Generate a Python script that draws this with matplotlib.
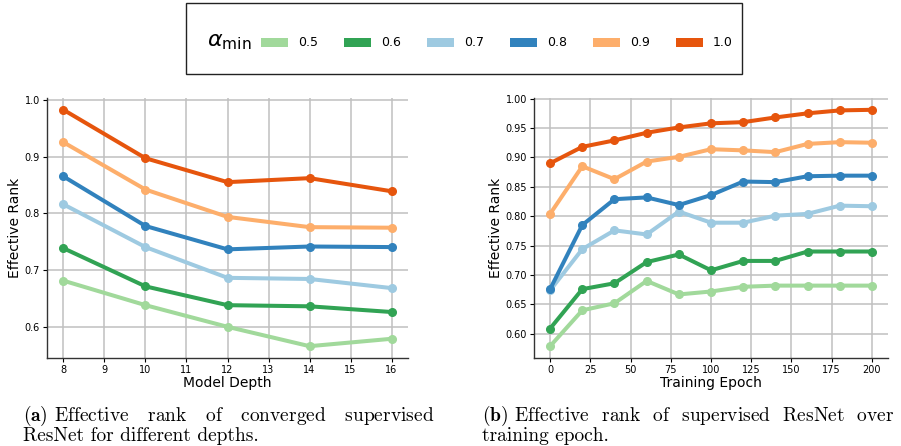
import numpy as np
import matplotlib
matplotlib.use("Agg")
import matplotlib.pyplot as plt
from matplotlib.patches import Patch, Rectangle

plt.rcParams['mathtext.fontset'] = 'cm'

# ---- data ----
alpha_labels = ['0.5', '0.6', '0.7', '0.8', '0.9', '1.0']
colors = ['#a1d99b', '#31a354', '#9ecae1', '#3182bd', '#fdae6b', '#e6550d']

depths = [8, 10, 12, 14, 16]
rank_depth_05 = [0.682, 0.639, 0.601, 0.567, 0.580]
rank_depth_06 = [0.739, 0.672, 0.639, 0.637, 0.627]
rank_depth_07 = [0.816, 0.741, 0.687, 0.685, 0.669]
rank_depth_08 = [0.865, 0.778, 0.737, 0.742, 0.741]
rank_depth_09 = [0.925, 0.842, 0.794, 0.776, 0.775]
rank_depth_10 = [0.982, 0.897, 0.855, 0.862, 0.839]

epochs = [0, 20, 40, 60, 80, 100, 120, 140, 160, 180, 200]
rank_epoch_05 = [0.579, 0.640, 0.652, 0.690, 0.667, 0.672, 0.680, 0.682, 0.682, 0.682, 0.682]
rank_epoch_06 = [0.609, 0.676, 0.686, 0.722, 0.735, 0.708, 0.724, 0.724, 0.740, 0.740, 0.740]
rank_epoch_07 = [0.674, 0.744, 0.776, 0.769, 0.808, 0.789, 0.789, 0.801, 0.804, 0.818, 0.817]
rank_epoch_08 = [0.676, 0.785, 0.829, 0.832, 0.819, 0.836, 0.859, 0.858, 0.868, 0.869, 0.869]
rank_epoch_09 = [0.804, 0.885, 0.863, 0.893, 0.901, 0.914, 0.912, 0.909, 0.923, 0.926, 0.925]
rank_epoch_10 = [0.890, 0.918, 0.929, 0.942, 0.951, 0.958, 0.960, 0.968, 0.975, 0.980, 0.981]

depth_series = [rank_depth_05, rank_depth_06, rank_depth_07,
                rank_depth_08, rank_depth_09, rank_depth_10]
epoch_series = [rank_epoch_05, rank_epoch_06, rank_epoch_07,
                rank_epoch_08, rank_epoch_09, rank_epoch_10]

fig = plt.figure(figsize=(9.01, 4.46), dpi=100)
ax1 = fig.add_axes([0.0522, 0.1973, 0.4006, 0.583])
ax2 = fig.add_axes([0.5927, 0.1973, 0.3929, 0.583])


def style_axis(ax):
    ax.grid(True, color='#c0c0c0', linewidth=1.1, zorder=0)
    ax.set_axisbelow(True)
    for s in ['top', 'right']:
        ax.spines[s].set_visible(False)
    for s in ['left', 'bottom']:
        ax.spines[s].set_color('#333333')
        ax.spines[s].set_linewidth(1.0)
    ax.tick_params(labelsize=7, length=3, width=0.8, pad=2)
    ax.set_ylabel('Effective Rank', fontsize=10, labelpad=2)


for ys, c in zip(depth_series, colors):
    ax1.plot(depths, ys, color=c, lw=2.9, marker='o', ms=5.5, zorder=3)
ax1.set_xticks(np.arange(8, 17, 1))
ax1.set_xlabel('Model Depth', fontsize=10, labelpad=1)
style_axis(ax1)

for ys, c in zip(epoch_series, colors):
    ax2.plot(epochs, ys, color=c, lw=2.9, marker='o', ms=5.5, zorder=3)
ax2.set_xticks(np.arange(0, 201, 25))
ax2.set_xlabel('Training Epoch', fontsize=10, labelpad=1)
style_axis(ax2)

# ---- shared legend on top ----
box = Rectangle((186 / 901, 1 - 74 / 446), (742 - 186) / 901, 71 / 446,
                transform=fig.transFigure, fill=False, edgecolor='#222222', lw=1.0)
fig.patches.append(box)
fig.text(207 / 901, 1 - 42 / 446, r'$\alpha_{\rm min}$', fontsize=16,
         va='center', ha='left', math_fontfamily='dejavusans')
handles = [Patch(facecolor=c, edgecolor='none') for c in colors]
fig.legend(handles, alpha_labels, ncol=6, loc='center left',
           bbox_to_anchor=(255 / 901, 1 - 43 / 446), frameon=False,
           fontsize=9, handlelength=2.16, handleheight=0.76,
           handletextpad=0.8, columnspacing=2.08, borderpad=0)

# ---- captions (justified-looking via extra spaces) ----
cap_kw = dict(fontsize=14, family='cmr10', va='baseline', ha='left',
              linespacing=0.93)
fig.text(23 / 901, 1 - 441 / 446,
         r'$\mathbf{(a)}$ Effective   rank   of   converged   supervised'
         '\nResNet for different depths.', **cap_kw)
fig.text(482 / 901, 1 - 441 / 446,
         r'$\mathbf{(b)}$ Effective  rank  of  supervised  ResNet  over'
         '\ntraining epoch.', **cap_kw)

fig.savefig('out.png', dpi=100)
